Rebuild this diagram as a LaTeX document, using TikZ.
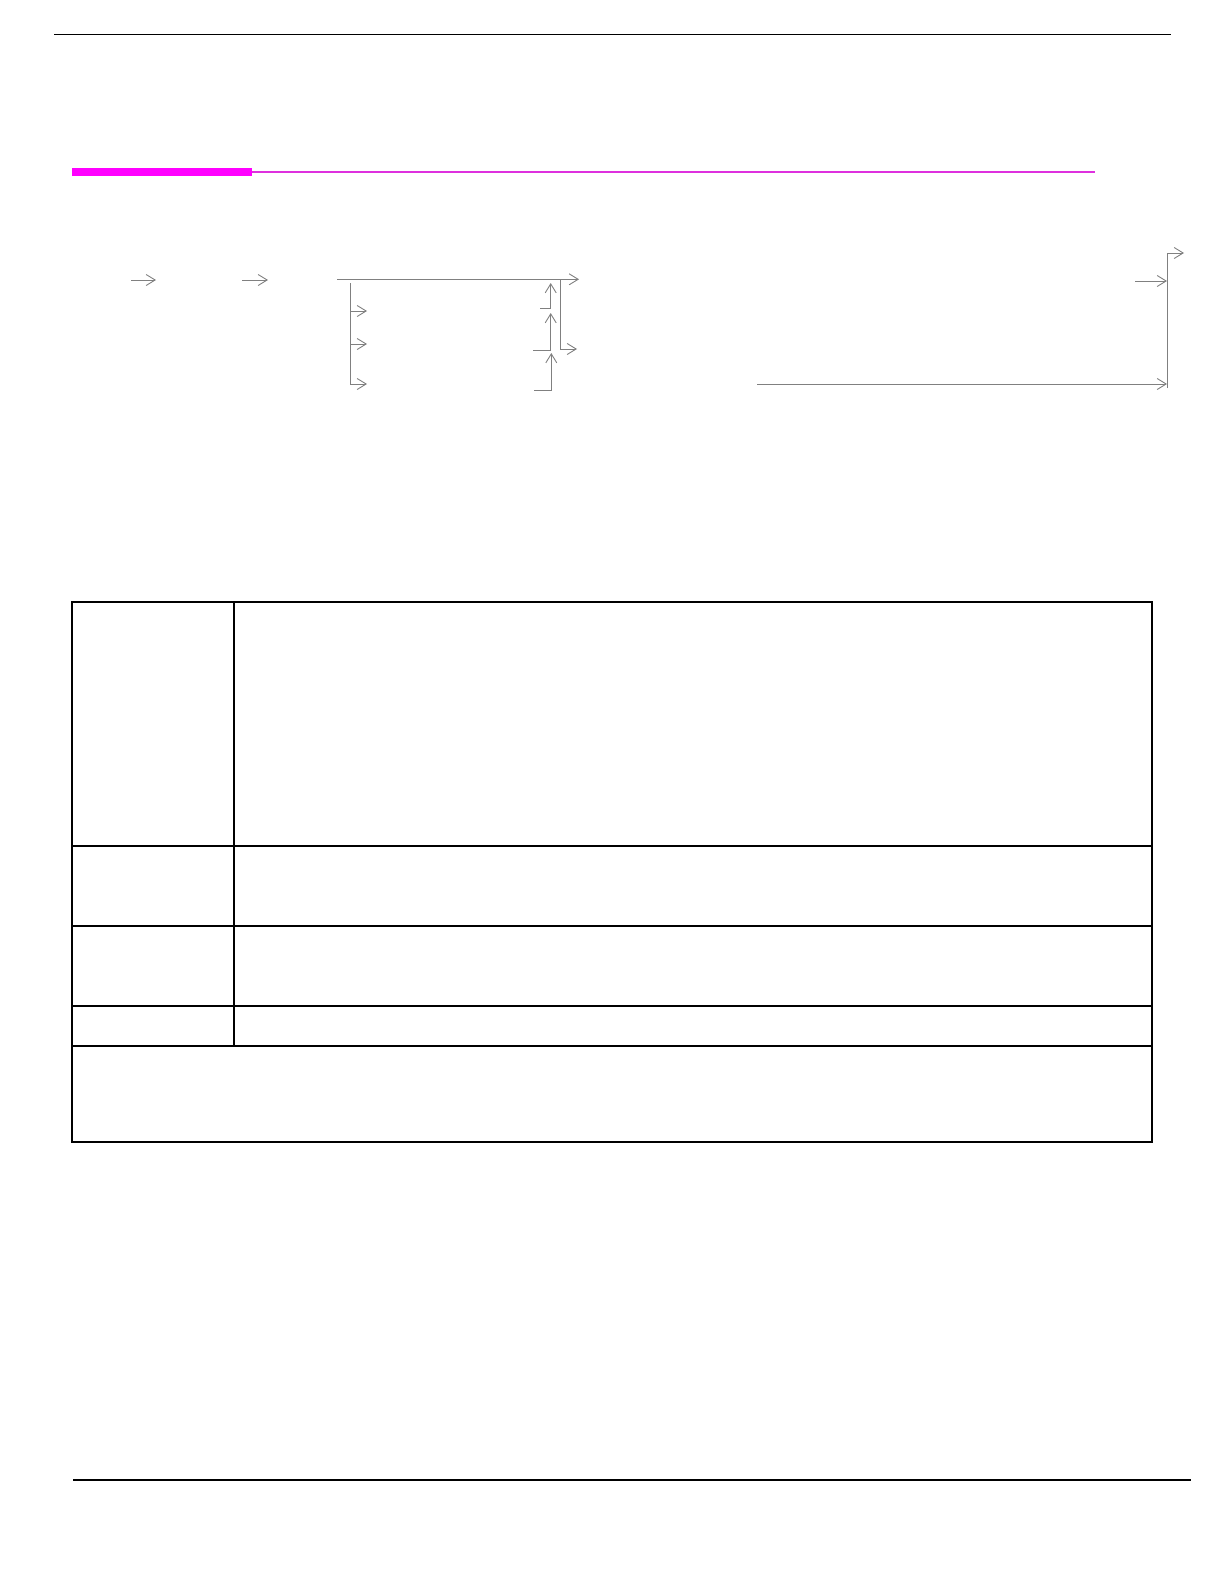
\documentclass[tikz,border=0pt]{standalone}
\usetikzlibrary{arrows.meta}
\definecolor{magbar}{RGB}{255,0,255}
\definecolor{magline}{RGB}{222,48,222}
\definecolor{flowgray}{RGB}{128,128,128}
\begin{document}
\begin{tikzpicture}[x=1pt,y=-1pt,
  rule/.style={line width=1.3pt,black},
  tbl/.style={line width=1.8pt,black},
  flow/.style={line width=1pt,draw=flowgray,-{Straight Barb[length=9pt,width=11pt,line width=0.9pt]}}]
\useasboundingbox (0,0) rectangle (1224,1582);
% header rules
\coordinate (tr1) at (54,34.3); \coordinate (tr2) at (1171,34.3);
\draw[rule] (tr1) -- (tr2);
\coordinate (mb1) at (72,168); \coordinate (mb2) at (252,175.7);
\fill[magbar] (mb1) rectangle (mb2);
\coordinate (ml1) at (252,171.8); \coordinate (ml2) at (1095,171.8);
\draw[line width=2pt,magline] (ml1) -- (ml2);
% flow diagram
\coordinate (a1s) at (131,280); \coordinate (a1e) at (156,280);
\draw[flow] (a1s) -- (a1e);
\coordinate (a2s) at (242,280); \coordinate (a2e) at (268,280);
\draw[flow] (a2s) -- (a2e);
\coordinate (ts) at (337,279.3); \coordinate (te) at (579,279.3);
\draw[flow] (ts) -- (te);
% left branch
\coordinate (lb0) at (350.7,283); \coordinate (lb1) at (350.7,311);
\coordinate (lb2) at (350.7,344); \coordinate (lb3) at (350.7,384);
\coordinate (lb1e) at (367,311); \coordinate (lb2e) at (367,344); \coordinate (lb3e) at (367,384);
\draw[flow] (lb0) -- (lb1) -- (lb1e);
\draw[flow] (lb0) -- (lb2) -- (lb2e);
\draw[flow] (lb0) -- (lb3) -- (lb3e);
% right branch down
\coordinate (rd0) at (560.7,279.3); \coordinate (rd1) at (560.7,349); \coordinate (rd2) at (577,349);
\draw[flow] (rd0) -- (rd1) -- (rd2);
% up arrows
\coordinate (u1a) at (540,308); \coordinate (u1b) at (550.7,308); \coordinate (u1c) at (550.7,283);
\draw[flow] (u1a) -- (u1b) -- (u1c);
\coordinate (u2a) at (533,350); \coordinate (u2b) at (550.7,350); \coordinate (u2c) at (550.7,313);
\draw[flow] (u2a) -- (u2b) -- (u2c);
\coordinate (u3a) at (534,390); \coordinate (u3b) at (551.3,390); \coordinate (u3c) at (551.3,353);
\draw[flow] (u3a) -- (u3b) -- (u3c);
% right side
\coordinate (rv0) at (1167,388); \coordinate (rv1) at (1167,253); \coordinate (rv2) at (1184,253);
\draw[flow] (rv0) -- (rv1) -- (rv2);
\coordinate (ra1) at (1135,281); \coordinate (ra2) at (1167,281);
\draw[flow] (ra1) -- (ra2);
\coordinate (bl1) at (757,384); \coordinate (bl2) at (1167,384);
\draw[flow] (bl1) -- (bl2);
% table
\coordinate (t0) at (72.3,602.3); \coordinate (t1) at (1152,1142);
\draw[tbl] (t0) rectangle (t1);
\coordinate (c0) at (234,602.3); \coordinate (c1) at (234,1046);
\draw[tbl] (c0) -- (c1);
\coordinate (r1a) at (72.3,846); \coordinate (r1b) at (1152,846);
\coordinate (r2a) at (72.3,926); \coordinate (r2b) at (1152,926);
\coordinate (r3a) at (72.3,1006); \coordinate (r3b) at (1152,1006);
\coordinate (r4a) at (72.3,1046); \coordinate (r4b) at (1152,1046);
\draw[tbl] (r1a) -- (r1b);
\draw[tbl] (r2a) -- (r2b);
\draw[tbl] (r3a) -- (r3b);
\draw[tbl] (r4a) -- (r4b);
% footer rule
\coordinate (br1) at (73,1480); \coordinate (br2) at (1191,1480);
\draw[rule] (br1) -- (br2);
\end{tikzpicture}
\end{document}
